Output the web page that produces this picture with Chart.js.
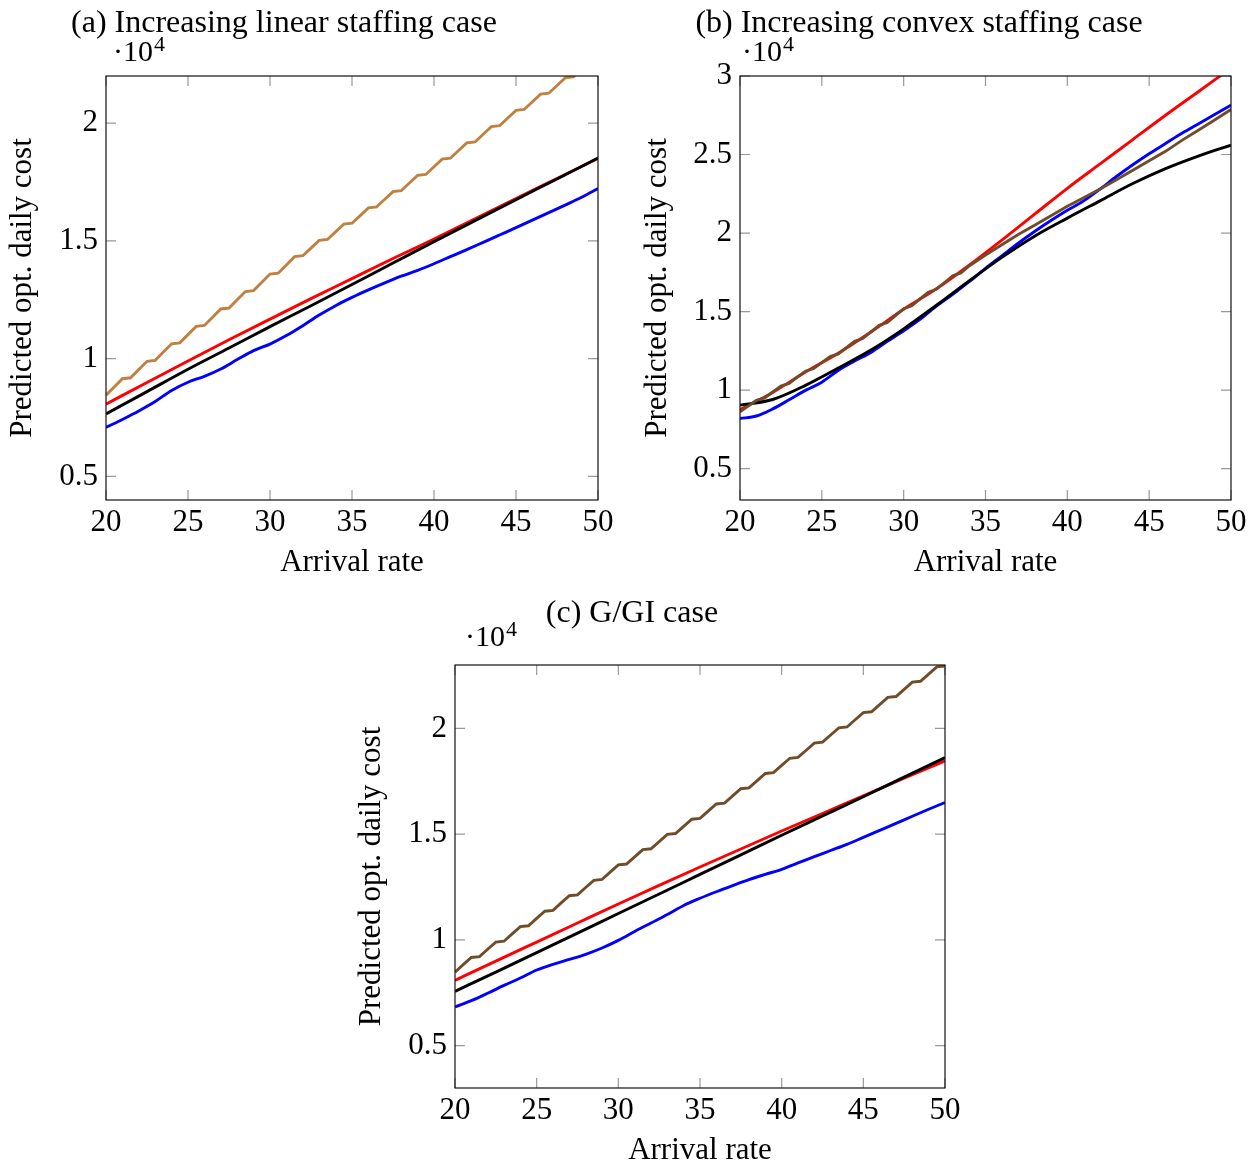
<!DOCTYPE html>
<html>
<head>
<meta charset="utf-8">
<script src="https://cdn.jsdelivr.net/npm/chart.js@4.4.1/dist/chart.umd.min.js"></script>
<style>
  html, body { margin: 0; padding: 0; background: #fff; overflow: hidden; }
  body { width: 1259px; height: 1162px; position: relative; }
  canvas { position: absolute; }
</style>
</head>
<body>
<canvas id="chartA" width="630" height="590" style="left:0px;top:0px"></canvas>
<canvas id="chartB" width="624" height="590" style="left:635px;top:0px"></canvas>
<canvas id="chartC" width="626" height="588" style="left:349px;top:590px"></canvas>
<script>
// x positions (arrival rate)
const halfX = [20,20.5,21,21.5,22,22.5,23,23.5,24,24.5,25,25.5,26,26.5,27,27.5,28,28.5,29,29.5,30,30.5,31,31.5,32,32.5,33,33.5,34,34.5,35,35.5,36,36.5,37,37.5,38,38.5,39,39.5,40,40.5,41,41.5,42,42.5,43,43.5,44,44.5,45,45.5,46,46.5,47,47.5,48,48.5,49,49.5,50];
const unitX = [20,21,22,23,24,25,26,27,28,29,30,31,32,33,34,35,36,37,38,39,40,41,42,43,44,45,46,47,48,49,50];
const coarseX = [20,22.5,25,27.5,30,32.5,35,37.5,40,42.5,45,47.5,50];
const evenX = [20,22,24,26,28,30,32,34,36,38,40,42,44,46,48,50];
const bBrownX = [20,20.5,21,21.5,22,22.5,23,23.5,24,24.5,25,25.5,26,26.5,27,27.5,28,28.5,29,29.5,30,30.5,31,31.5,32,32.5,33,33.5,34,35,36,37,38,39,40,41,42,43,44,45,46,47,48,49,50];

// tick labels
const xTicks = [20,25,30,35,40,45,50];
const aYTicks = [5000,10000,15000,20000];
const bYTicks = [5000,10000,15000,20000,25000,30000];
const cYTicks = [5000,10000,15000,20000];

// (a) increasing linear staffing
const aBrown = [8450,8800,9150,9190,9540,9890,9930,10280,10630,10670,11020,11370,11410,11760,12110,12150,12500,12850,12890,13240,13590,13630,13980,14330,14370,14695,15020,15060,15385,15710,15750,16075,16400,16440,16765,17090,17130,17455,17780,17820,18145,18470,18510,18835,19160,19200,19525,19850,19890,20215,20540,20580,20905,21230,21270,21595,21920,21960,22285,22610,22650];
const aRed = [8070,8990,9900,10800,11680,12550,13400,14250,15080,15940,16800,17650,18500];
const aBlack = [7650,8600,9550,10450,11360,12250,13150,14060,14970,15860,16750,17630,18520];
const aBlue = [7080,7420,7780,8180,8650,9000,9250,9560,9960,10340,10620,10980,11400,11850,12250,12600,12920,13220,13500,13750,14030,14330,14630,14940,15250,15560,15880,16200,16520,16850,17220];

// (b) increasing convex staffing
const bBrown = [8620,8980,9340,9500,9880,10260,10430,10820,11200,11370,11750,12130,12300,12700,13100,13280,13700,14120,14300,14740,15180,15370,15800,16230,16420,16850,17280,17460,17900,18600,19250,19900,20500,21100,21700,22250,22800,23400,24000,24600,25200,25900,26550,27200,27870];
const bRed = [8750,9850,11150,12350,13700,15150,16450,17950,19550,21200,22850,24400,25950,27500,29000,30500];
const bBlack = [9040,9400,10300,11400,12550,13900,15400,16950,18450,19800,20950,22050,23150,24100,24900,25600];
const bBlue = [8190,8350,8800,9380,9980,10500,11250,11850,12400,13100,13780,14500,15350,16100,16900,17750,18550,19350,20100,20800,21450,22050,22800,23600,24350,25050,25700,26350,26950,27550,28150];

// (c) G/GI
const cBrown = [8480,8830,9170,9210,9560,9900,9940,10290,10630,10670,11020,11360,11400,11750,12090,12130,12480,12820,12860,13210,13550,13590,13930,14270,14310,14650,14990,15030,15370,15710,15750,16090,16430,16470,16810,17150,17190,17530,17870,17910,18250,18590,18630,18970,19310,19350,19690,20030,20070,20410,20750,20790,21130,21470,21510,21850,22190,22230,22570,22910,22950];
const cRed = [8090,9000,9900,10800,11700,12580,13450,14300,15150,15980,16820,17650,18470];
const cBlack = [7570,8480,9400,10320,11250,12170,13100,14020,14950,15860,16770,17700,18620];
const cBlue = [6830,7130,7480,7850,8200,8580,8850,9080,9320,9620,9980,10400,10800,11200,11630,11970,12280,12570,12850,13100,13340,13640,13940,14230,14520,14850,15180,15510,15850,16180,16500];

const SERIF = '"Liberation Serif", "Times New Roman", serif';
const BROWN_LIGHT = '#BF8040';
const BROWN_DARK = '#704C28';

// box, inner ticks, caption and the 10^4 multiplier
const framePlugin = {
	id: 'frame',
	afterDraw(chart, args, opts) {
		const { ctx, chartArea: a, scales: { x, y } } = chart;
		ctx.save();
		ctx.strokeStyle = '#999';
		ctx.lineWidth = 1.2;
		ctx.beginPath();
		x.ticks.forEach(t => {
			const px = x.getPixelForValue(t.value);
			ctx.moveTo(px, a.bottom); ctx.lineTo(px, a.bottom - 10);
			ctx.moveTo(px, a.top); ctx.lineTo(px, a.top + 10);
		});
		y.ticks.forEach(t => {
			const py = y.getPixelForValue(t.value);
			ctx.moveTo(a.left, py); ctx.lineTo(a.left + 10, py);
			ctx.moveTo(a.right, py); ctx.lineTo(a.right - 10, py);
		});
		ctx.stroke();
		ctx.strokeStyle = '#111';
		ctx.lineWidth = 1.2;
		ctx.strokeRect(a.left, a.top, a.right - a.left, a.bottom - a.top);

		ctx.fillStyle = '#000';
		ctx.textBaseline = 'alphabetic';
		ctx.textAlign = 'center';
		ctx.font = '32px ' + SERIF;
		ctx.fillText(opts.caption, opts.captionX, opts.captionY);

		ctx.textAlign = 'left';
		const mx = a.left + opts.multDx;
		const my = a.top + opts.multDy;
		ctx.font = '30px ' + SERIF;
		ctx.fillText('\u00b710', mx, my);
		const w = ctx.measureText('\u00b710').width;
		ctx.font = '22px ' + SERIF;
		ctx.fillText('4', mx + w + 1, my - 10);
		ctx.restore();
	}
};

function buildChart(id, cfg) {
	const font = { family: SERIF, size: 31 };
	new Chart(document.getElementById(id), {
		type: 'line',
		data: {
			datasets: cfg.series.map(s => ({
				data: s.x.map((xv, i) => ({ x: xv, y: s.y[i] })),
				borderColor: s.color,
				borderWidth: 2.9,
				pointRadius: 0,
				fill: false,
				tension: s.smooth ? 0.4 : 0,
				cubicInterpolationMode: s.smooth ? 'monotone' : 'default'
			}))
		},
		options: {
			responsive: false,
			animation: false,
			devicePixelRatio: 1,
			layout: { padding: { left: 0, top: cfg.padTop, right: cfg.padRight, bottom: 0 } },
			plugins: {
				legend: { display: false },
				tooltip: { enabled: false },
				frame: cfg.frame
			},
			scales: {
				x: {
					type: 'linear',
					min: 20,
					max: 50,
					afterBuildTicks: s => { s.ticks = xTicks.map(v => ({ value: v })); },
					afterFit: s => { s.height = 90; },
					grid: { display: false, drawTicks: false },
					border: { display: false },
					ticks: { font, color: '#000', padding: 4, autoSkip: false, maxRotation: 0, callback: v => String(v) },
					title: { display: true, text: 'Arrival rate', font, color: '#000', padding: { top: 0, bottom: 9 } }
				},
				y: {
					type: 'linear',
					min: cfg.yMin,
					max: cfg.yMax,
					afterBuildTicks: s => { s.ticks = cfg.yTicks.map(v => ({ value: v })); },
					afterFit: s => { s.width = cfg.yWidth; },
					grid: { display: false, drawTicks: false },
					border: { display: false },
					ticks: { font, color: '#000', padding: 8, autoSkip: false, callback: v => String(v / 10000) },
					title: { display: true, text: 'Predicted opt. daily cost', font, color: '#000', padding: { top: 4, bottom: 0 } }
				}
			}
		},
		plugins: [framePlugin]
	});
}

buildChart('chartA', {
	padTop: 76, padRight: 32, yWidth: 106,
	yMin: 4000, yMax: 22000, yTicks: aYTicks,
	frame: { caption: '(a) Increasing linear staffing case', captionX: 284, captionY: 32, multDx: 7, multDy: -15 },
	series: [
		{ x: halfX, y: aBrown, color: BROWN_LIGHT, smooth: false },
		{ x: coarseX, y: aBlack, color: '#000', smooth: true },
		{ x: coarseX, y: aRed, color: '#ff0000', smooth: true },
		{ x: unitX, y: aBlue, color: '#0000ff', smooth: true }
	]
});

buildChart('chartB', {
	padTop: 76, padRight: 28, yWidth: 105,
	yMin: 3000, yMax: 30000, yTicks: bYTicks,
	frame: { caption: '(b) Increasing convex staffing case', captionX: 284, captionY: 32, multDx: 2, multDy: -15 },
	series: [
		{ x: bBrownX, y: bBrown, color: BROWN_DARK, smooth: false },
		{ x: evenX, y: bBlack, color: '#000', smooth: true },
		{ x: evenX, y: bRed, color: '#ff0000', smooth: true },
		{ x: unitX, y: bBlue, color: '#0000ff', smooth: true }
	]
});

buildChart('chartC', {
	padTop: 75, padRight: 30, yWidth: 106,
	yMin: 3000, yMax: 23000, yTicks: cYTicks,
	frame: { caption: '(c) G/GI case', captionX: 283, captionY: 32, multDx: 10, multDy: -19 },
	series: [
		{ x: halfX, y: cBrown, color: BROWN_DARK, smooth: false },
		{ x: coarseX, y: cBlack, color: '#000', smooth: true },
		{ x: coarseX, y: cRed, color: '#ff0000', smooth: true },
		{ x: unitX, y: cBlue, color: '#0000ff', smooth: true }
	]
});
</script>
</body>
</html>
